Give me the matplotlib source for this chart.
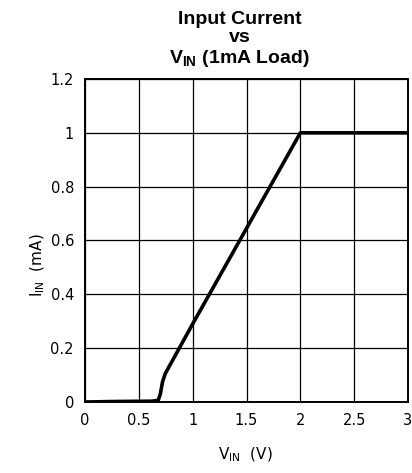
import numpy as np
import matplotlib as mpl
mpl.use("Agg")
import matplotlib.pyplot as plt

# curve
v_in = [0.0, 0.3, 0.62, 0.68, 0.70, 0.72, 0.745, 0.80, 1.0, 1.5, 2.0, 2.5, 3.0]
i_in = [0.0, 0.002, 0.003, 0.006, 0.03, 0.075, 0.105, 0.145, 0.29, 0.645, 1.0, 1.0, 1.0]
x_ticks = [0, 0.5, 1, 1.5, 2, 2.5, 3]
x_labels = ["0", "0.5", "1", "1.5", "2", "2.5", "3"]
y_ticks = [0, 0.2, 0.4, 0.6, 0.8, 1.0, 1.2]
y_labels = ["0", "0.2", "0.4", "0.6", "0.8", "1", "1.2"]

plt.rcParams["font.family"] = ["DejaVu Sans"]
plt.rcParams["mathtext.fontset"] = "custom"
plt.rcParams["mathtext.rm"] = "DejaVu Sans"
plt.rcParams["mathtext.bf"] = "Liberation Sans:bold"

fig = plt.figure(figsize=(4.12, 4.73), dpi=100)
ax = fig.add_axes([85/412, 71/473, 323/412, 323/473])
ax.plot(v_in, i_in, color="black", lw=2.6, solid_capstyle="butt")
ax.set_xlim(0, 3); ax.set_ylim(0, 1.2)
ax.set_xticks(x_ticks, x_labels); ax.set_yticks(y_ticks, y_labels)
ax.tick_params(length=0, labelsize=10.5, pad=8)
ax.grid(True, color="black", lw=0.9)
for s in ax.spines.values():
    s.set_linewidth(1.4)

tfont = dict(family="Liberation Sans", weight="bold", fontsize=14, ha="center")
fig.text(240/412, 1 - 20/473, "Input Current", va="center", **tfont)
fig.text(240/412, 1 - 38/473, "vs", va="center", **tfont)
fig.text(240/412, 1 - 58/473, r"$\mathbf{V_{IN}}$ (1mA Load)", va="center", **tfont)

fig.text(245/412, 1 - 455/473, r"$\mathrm{V_{IN}}$  (V)", ha="center", va="center", fontsize=11)
fig.text(38/412, 1 - 265/473, r"$\mathrm{I_{IN}}$  (mA)", ha="center", va="center",
         rotation=90, fontsize=11)

fig.savefig("out.png", dpi=100)
